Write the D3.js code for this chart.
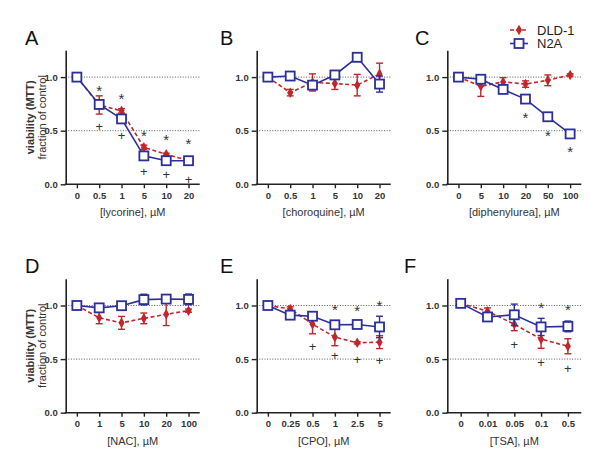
<!DOCTYPE html>
<html><head><meta charset="utf-8">
<script src="https://cdn.jsdelivr.net/npm/d3@7"></script>
<style>body{margin:0;background:#fff}svg{display:block}text{font-family:"Liberation Sans",Arial,sans-serif}</style>
</head><body><svg id="c" width="601" height="466"></svg>
<script>
// ---- data ----
const catsA = ["0","0.5","1","5","10","20"];
const dldA = [1.0, 0.74, 0.685, 0.345, 0.28, 0.22];
const dldErrA = [0, 0.085, 0.02, 0.02, 0.01, 0.01];
const n2aA = [1.0, 0.745, 0.61, 0.265, 0.22, 0.22];
const n2aErrA = [0, 0.04, 0.03, 0.02, 0.02, 0.01];
const starA = [null, 0.905, 0.825, 0.485, 0.445, 0.41];
const plusA = [null, 0.54, 0.455, 0.118, 0.087, 0.047];

const catsB = ["0","0.5","1","5","10","20"];
const dldB = [1.0, 0.855, 0.95, 0.94, 0.925, 1.03];
const dldErrB = [0, 0.03, 0.08, 0.055, 0.1, 0.1];
const n2aB = [1.0, 1.01, 0.925, 1.02, 1.185, 0.935];
const n2aErrB = [0, 0.02, 0.03, 0.02, 0.04, 0.075];
const starB = [];
const plusB = [];

const catsC = ["0","5","10","20","50","100"];
const dldC = [1.0, 0.915, 0.955, 0.935, 0.97, 1.02];
const dldErrC = [0, 0.095, 0.04, 0.03, 0.05, 0.01];
const n2aC = [1.0, 0.98, 0.885, 0.795, 0.63, 0.47];
const n2aErrC = [0, 0.02, 0.01, 0.035, 0.02, 0.01];
const starC = [null, null, null, 0.65, 0.485, 0.333];
const plusC = [];

const catsD = ["0","1","5","10","20","100"];
const dldD = [1.0, 0.885, 0.838, 0.88, 0.918, 0.952];
const dldErrD = [0, 0.055, 0.06, 0.05, 0.105, 0.015];
const n2aD = [1.0, 0.978, 0.998, 1.055, 1.06, 1.057];
const n2aErrD = [0, 0.015, 0.015, 0.05, 0.03, 0.05];
const starD = [];
const plusD = [];

const catsE = ["0","0.25","0.5","1","2.5","5"];
const dldE = [1.0, 0.968, 0.826, 0.705, 0.652, 0.658];
const dldErrE = [0, 0.02, 0.09, 0.08, 0.01, 0.06];
const n2aE = [1.0, 0.91, 0.9, 0.82, 0.823, 0.80];
const n2aErrE = [0, 0.015, 0.015, 0.03, 0.02, 0.1];
const starE = [null, null, null, 0.99, 0.98, 1.025];
const plusE = [null, null, 0.62, 0.53, 0.5, 0.49];

const catsF = ["0","0.01","0.05","0.1","0.5"];
const dldF = [1.02, 0.947, 0.825, 0.686, 0.62];
const dldErrF = [0, 0.03, 0.06, 0.085, 0.07];
const n2aF = [1.02, 0.893, 0.913, 0.80, 0.805];
const n2aErrF = [0, 0.04, 0.1, 0.08, 0.05];
const starF = [null, null, null, 1.01, 0.995];
const plusF = [null, null, 0.634, 0.472, 0.413];

const yTicks = [0, 0.5, 1.0];
const refLines = [0.5, 1.0];
const seriesNames = ["DLD-1", "N2A"];
const panels = [
  {letter:"A", cats:catsA, dld:dldA, dldErr:dldErrA, n2a:n2aA, n2aErr:n2aErrA, star:starA, plus:plusA, title:"[lycorine],  \u00b5M"},
  {letter:"B", cats:catsB, dld:dldB, dldErr:dldErrB, n2a:n2aB, n2aErr:n2aErrB, star:starB, plus:plusB, title:"[choroquine],  \u00b5M"},
  {letter:"C", cats:catsC, dld:dldC, dldErr:dldErrC, n2a:n2aC, n2aErr:n2aErrC, star:starC, plus:plusC, title:"[diphenylurea],  \u00b5M"},
  {letter:"D", cats:catsD, dld:dldD, dldErr:dldErrD, n2a:n2aD, n2aErr:n2aErrD, star:starD, plus:plusD, title:"[NAC],  \u00b5M"},
  {letter:"E", cats:catsE, dld:dldE, dldErr:dldErrE, n2a:n2aE, n2aErr:n2aErrE, star:starE, plus:plusE, title:"[CPO],  \u00b5M"},
  {letter:"F", cats:catsF, dld:dldF, dldErr:dldErrF, n2a:n2aF, n2aErr:n2aErrF, star:starF, plus:plusF, title:"[TSA],  \u00b5M"}
];

// ---- layout ----
const RED = "#c0262b", BLUE = "#2b2f9a", INK = "#333";
const colX = [65.7, 256.7, 447.3];
const rowY0 = [184.3, 412.7];  // y of 0.0
const unit = 107.2;
const plotW = 134;
const letterX = [25, 220, 415, 25, 220, 404];

const svg = d3.select("#c");

panels.forEach((p, i) => {
  const col = i % 3, row = Math.floor(i / 3);
  const x0 = colX[col], yb = rowY0[row];
  const x = d3.scalePoint().domain(p.cats).range([x0, x0 + plotW]).padding(0.5);
  const y = d3.scaleLinear().domain([0, 1.25]).range([yb, yb - 1.25 * unit]);
  const g = svg.append("g");

  g.selectAll("line.ref").data(refLines).enter().append("line")
    .attr("x1", x0).attr("x2", x0 + plotW)
    .attr("y1", d => y(d)).attr("y2", d => y(d))
    .attr("stroke", "#444").attr("stroke-width", 0.9).attr("stroke-dasharray", "1,1.6");

  const ya = g.append("g").attr("transform", `translate(${x0},0)`)
    .call(d3.axisLeft(y).tickValues(yTicks).tickFormat(d3.format(".1f")).tickSize(5).tickSizeOuter(0));
  const xa = g.append("g").attr("transform", `translate(0,${yb})`)
    .call(d3.axisBottom(x).tickSize(4).tickSizeOuter(0));
  [ya, xa].forEach(a => {
    a.select(".domain").attr("stroke", "#222").attr("stroke-width", 1.6);
    a.selectAll(".tick line").attr("stroke", "#222").attr("stroke-width", 1.4);
    a.selectAll(".tick text").attr("fill", INK).attr("font-size", 9.5).attr("font-weight", "bold")
      .attr("font-family", "Liberation Sans, Arial, sans-serif");
  });
  xa.selectAll(".tick text").attr("y", 7.5);
  xa.select(".domain").attr("d", `M${x0 - 1},0H${x0 + plotW}`);

  g.append("text").attr("x", x0 + plotW / 2).attr("y", yb + 32)
    .attr("text-anchor", "middle").attr("font-size", 11).attr("fill", INK).text(p.title);

  g.append("text").attr("x", letterX[i]).attr("y", yb - 139.5)
    .attr("font-size", 20).attr("fill", "#111").text(p.letter);

  if (col === 0) {
    const cy = y(0.625);
    g.append("text").attr("transform", `translate(33.5,${cy}) rotate(-90)`)
      .attr("text-anchor", "middle").attr("font-size", 11).attr("font-weight", "bold").attr("fill", INK)
      .text("viability (MTT)");
    g.append("text").attr("transform", `translate(46,${cy}) rotate(-90)`)
      .attr("text-anchor", "middle").attr("font-size", 11).attr("fill", INK)
      .text("fraction of control");
  }

  const drawSeries = (vals, errs, color, dashed, square) => {
    const pts = p.cats.map((c, k) => ({c, v: vals[k], e: errs[k]}));
    g.append("path").datum(pts)
      .attr("d", d3.line().x(d => x(d.c)).y(d => y(d.v)))
      .attr("fill", "none").attr("stroke", color).attr("stroke-width", 1.6)
      .attr("stroke-dasharray", dashed ? "4,2.5" : null);
    const eb = g.selectAll(null).data(pts.filter(d => d.e > 0)).enter().append("g")
      .attr("stroke", color).attr("stroke-width", 1.4);
    eb.append("line").attr("x1", d => x(d.c)).attr("x2", d => x(d.c))
      .attr("y1", d => y(d.v - d.e)).attr("y2", d => y(d.v + d.e));
    eb.append("line").attr("x1", d => x(d.c) - 3.5).attr("x2", d => x(d.c) + 3.5)
      .attr("y1", d => y(d.v - d.e)).attr("y2", d => y(d.v - d.e));
    eb.append("line").attr("x1", d => x(d.c) - 3.5).attr("x2", d => x(d.c) + 3.5)
      .attr("y1", d => y(d.v + d.e)).attr("y2", d => y(d.v + d.e));
    if (square) {
      g.selectAll(null).data(pts).enter().append("rect")
        .attr("x", d => x(d.c) - 4.5).attr("y", d => y(d.v) - 4.5)
        .attr("width", 9).attr("height", 9)
        .attr("fill", "#fff").attr("stroke", color).attr("stroke-width", 1.8);
    } else {
      g.selectAll(null).data(pts).enter().append("path")
        .attr("transform", d => `translate(${x(d.c)},${y(d.v)})`)
        .attr("d", d3.symbol(d3.symbolDiamond, 32)())
        .attr("fill", color);
    }
  };
  drawSeries(p.dld, p.dldErr, RED, true, false);
  drawSeries(p.n2a, p.n2aErr, BLUE, false, true);

  const marks = [];
  p.cats.forEach((c, k) => {
    if (p.star[k] != null) marks.push({c, v: p.star[k], t: "*", dy: 8.5, fs: 15});
    if (p.plus[k] != null) marks.push({c, v: p.plus[k], t: "+", dy: 4.5, fs: 13});
  });
  g.selectAll(null).data(marks).enter().append("text")
    .attr("x", d => x(d.c)).attr("y", d => y(d.v) + d.dy)
    .attr("text-anchor", "middle").attr("font-size", d => d.fs).attr("fill", INK).text(d => d.t);
});

// legend
const leg = svg.append("g");
const legY = [30, 43.5];
seriesNames.forEach((n, i) => {
  const color = i === 0 ? RED : BLUE;
  leg.append("line").attr("x1", 510).attr("x2", 528).attr("y1", legY[i]).attr("y2", legY[i])
    .attr("stroke", color).attr("stroke-width", 1.6).attr("stroke-dasharray", i === 0 ? "4,2" : null);
  if (i === 0) {
    leg.append("path").attr("transform", `translate(519,${legY[i]})`)
      .attr("d", d3.symbol(d3.symbolDiamond, 32)()).attr("fill", color);
  } else {
    leg.append("rect").attr("x", 514.5).attr("y", legY[i] - 4.5).attr("width", 9).attr("height", 9)
      .attr("fill", "#fff").attr("stroke", color).attr("stroke-width", 1.8);
  }
  leg.append("text").attr("x", 537).attr("y", legY[i] + 4.5).attr("font-size", 13).attr("fill", "#222").text(n);
});
</script></body></html>
